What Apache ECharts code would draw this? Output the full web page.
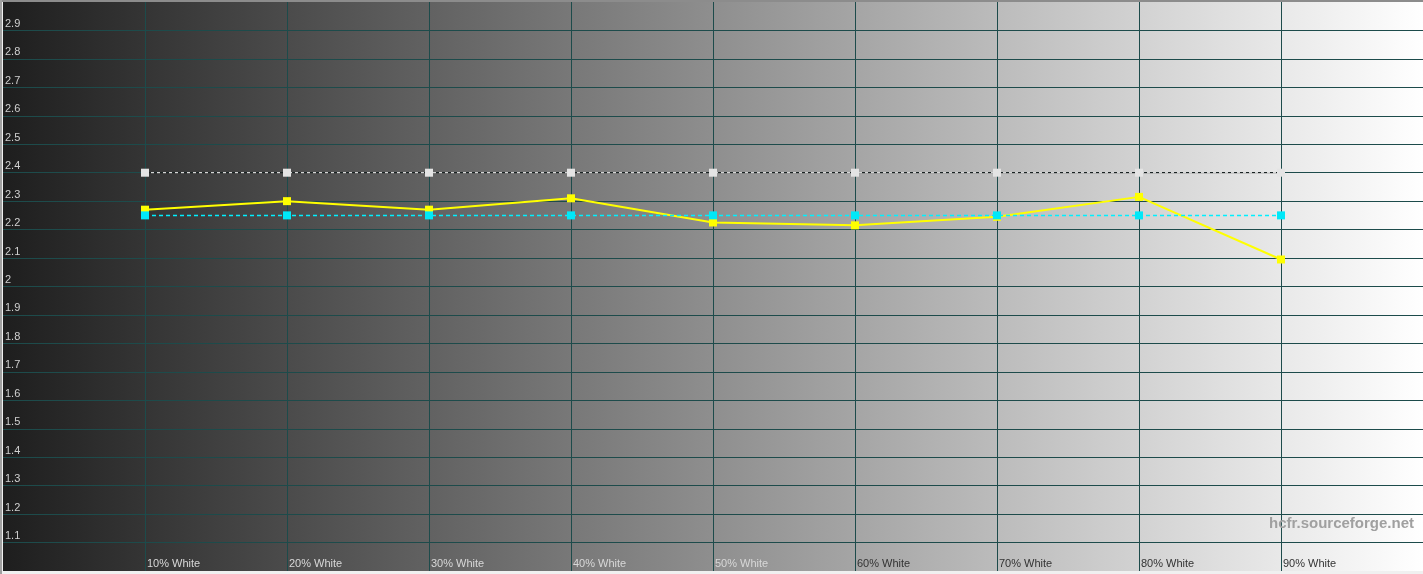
<!DOCTYPE html>
<html>
<head>
<meta charset="utf-8">
<script src="https://cdn.jsdelivr.net/npm/echarts@6/dist/echarts.min.js"></script>
<style>
html,body{margin:0;padding:0;background:#f0f0f0;}
#wrap{position:absolute;left:0;top:0;width:1423px;height:574px;background:#f0f0f0;}
#topb{position:absolute;left:0;top:0;width:1423px;height:2px;background:#8c8c8c;}
#leftb{position:absolute;left:0;top:0;width:2px;height:574px;background:#a0a0a0;}
#chart{position:absolute;left:2px;top:2px;width:1421px;height:569px;}
</style>
</head>
<body>
<div id="wrap"><div id="chart"></div><div id="topb"></div><div id="leftb"></div></div>
<script>
// data
const levels = [10, 20, 30, 40, 50, 60, 70, 80, 90];
const measuredGamma = [2.27, 2.30, 2.27, 2.31, 2.225, 2.215, 2.245, 2.315, 2.095];
const targetGamma = [2.25, 2.25, 2.25, 2.25, 2.25, 2.25, 2.25, 2.25, 2.25];
const referenceGamma = [2.4, 2.4, 2.4, 2.4, 2.4, 2.4, 2.4, 2.4, 2.4];
const xTickLabels = ['10% White','20% White','30% White','40% White','50% White','60% White','70% White','80% White','90% White'];
const yTicks = [1.1,1.2,1.3,1.4,1.5,1.6,1.7,1.8,1.9,2,2.1,2.2,2.3,2.4,2.5,2.6,2.7,2.8,2.9];

const pairs = arr => levels.map((l, i) => [l, arr[i]]);
const chart = echarts.init(document.getElementById('chart'));
const gridColor = '#1d4b4b';
chart.setOption({
  animation: false,
  grid: {
    left: 1, right: 0, top: 0, bottom: 0, show: true, borderWidth: 0,
    backgroundColor: new echarts.graphic.LinearGradient(0, 0, 1, 0, [
      {offset: 0, color: '#1e1e1e'},
      {offset: 1, color: '#ffffff'}
    ])
  },
  xAxis: {
    type: 'value', min: 0, max: 100, interval: 10,
    axisLine: {show: false}, axisTick: {show: false},
    splitLine: {show: true, showMinLine: false, showMaxLine: false, lineStyle: {color: gridColor, width: 1}},
    axisLabel: {
      inside: true, margin: 2, align: 'left', verticalAlign: 'bottom',
      showMinLabel: false, showMaxLabel: false,
      formatter: function (v) {
        const i = levels.indexOf(Math.round(v));
        if (i < 0) return '';
        return (i < 5 ? '{a|' : '{b|') + xTickLabels[i] + '}';
      },
      rich: {
        a: {color: '#d8d8d8', fontSize: 11, fontFamily: 'Liberation Sans, Arial, sans-serif', padding: [0,0,0,2]},
        b: {color: '#333333', fontSize: 11, fontFamily: 'Liberation Sans, Arial, sans-serif', padding: [0,0,0,2]}
      }
    }
  },
  yAxis: {
    type: 'value', min: 1, max: 3, interval: 0.1,
    axisLine: {show: false}, axisTick: {show: false},
    splitLine: {show: true, showMinLine: false, showMaxLine: false, lineStyle: {color: gridColor, width: 1}},
    axisLabel: {
      inside: true, margin: 2, verticalAlign: 'bottom',
      color: '#d0d0d0', fontSize: 11, fontFamily: 'Liberation Sans, Arial, sans-serif',
      padding: [0,0,1,0],
      formatter: function (v) {
        const r = Math.round(v * 10) / 10;
        return yTicks.indexOf(r) >= 0 ? String(r) : '';
      }
    }
  },
  graphic: [{
    type: 'text', right: 9, top: 514, z: 100,
    style: {text: 'hcfr.sourceforge.net', fill: '#a0a0a0', font: 'bold 15px "Liberation Sans", Arial, sans-serif'}
  }],
  series: [
    {
      name: 'Measured', type: 'line', data: pairs(measuredGamma), z: 3,
      symbol: 'rect', symbolSize: 8,
      lineStyle: {color: '#ffff00', width: 2},
      itemStyle: {color: '#ffff00'}
    },
    {
      name: 'RefBack', type: 'line', data: pairs(referenceGamma), z: 4,
      symbol: 'none', silent: true,
      lineStyle: {color: '#1a1a1a', width: 1}
    },
    {
      name: 'Reference', type: 'line', data: pairs(referenceGamma), z: 5,
      symbol: 'rect', symbolSize: 8,
      lineStyle: {color: '#ffffff', width: 1, type: [3, 3]},
      itemStyle: {color: '#e4e4e4'}
    },
    {
      name: 'Target', type: 'line', data: pairs(targetGamma), z: 6,
      symbol: 'rect', symbolSize: 8,
      lineStyle: {color: '#00f0ff', width: 1.5, type: [4, 3]},
      itemStyle: {color: '#00e8f8'}
    }
  ]
});
</script>
</body>
</html>
